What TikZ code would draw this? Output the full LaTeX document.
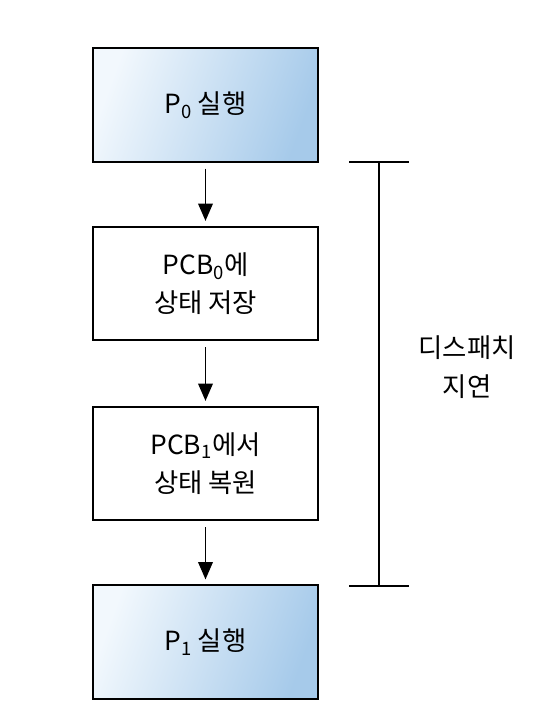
\documentclass[tikz,border=0pt]{standalone}
\usepackage{fontspec}
\setmainfont{Noto Sans CJK KR}
\usetikzlibrary{arrows.meta}
\definecolor{boxlight}{HTML}{F2F8FD}
\definecolor{boxdark}{HTML}{A6CAEA}
\begin{document}
\begin{tikzpicture}[
        x=0.03cm, y=-0.03cm,
        stage/.style={rectangle, draw, line width=1.6pt, minimum width=6.75cm, minimum height=3.4cm, align=center, font=\fontsize{22.5}{33}\selectfont},
        run/.style={stage, left color=boxlight, right color=boxdark, shading angle=70},
        arrow/.style={-{Triangle[length=0.52cm, width=0.44cm]}, line width=1.3pt, shorten <=0.18cm, shorten >=0.15cm},
        bar/.style={line width=1.5pt}
    ]
        \useasboundingbox (0,0) rectangle (554,722);

        % Processing stages
        \node[run] (run0) at (205.5,105) {P\textsubscript{0} 실행};
        \node[stage] (save) at (205.5,283.5) {PCB\textsubscript{0}에\\상태 저장};
        \node[stage] (restore) at (205.5,463.5) {PCB\textsubscript{1}에서\\상태 복원};
        \node[run] (run1) at (205.5,642) {P\textsubscript{1} 실행};

        % Connect stages
        \draw[arrow] (run0) -- (save);
        \draw[arrow] (save) -- (restore);
        \draw[arrow] (restore) -- (run1);

        % Dispatch latency
        \coordinate (top) at (379,162);
        \coordinate (bottom) at (379,586);
        \draw[bar] (top) -- (bottom);
        \draw[bar] ([xshift=-0.9cm]top) -- ([xshift=0.9cm]top);
        \draw[bar] ([xshift=-0.9cm]bottom) -- ([xshift=0.9cm]bottom);
        \node[align=center, font=\fontsize{22.5}{33}\selectfont] (latency) at (467,367) {디스패치\\지연};
    \end{tikzpicture}
\end{document}
